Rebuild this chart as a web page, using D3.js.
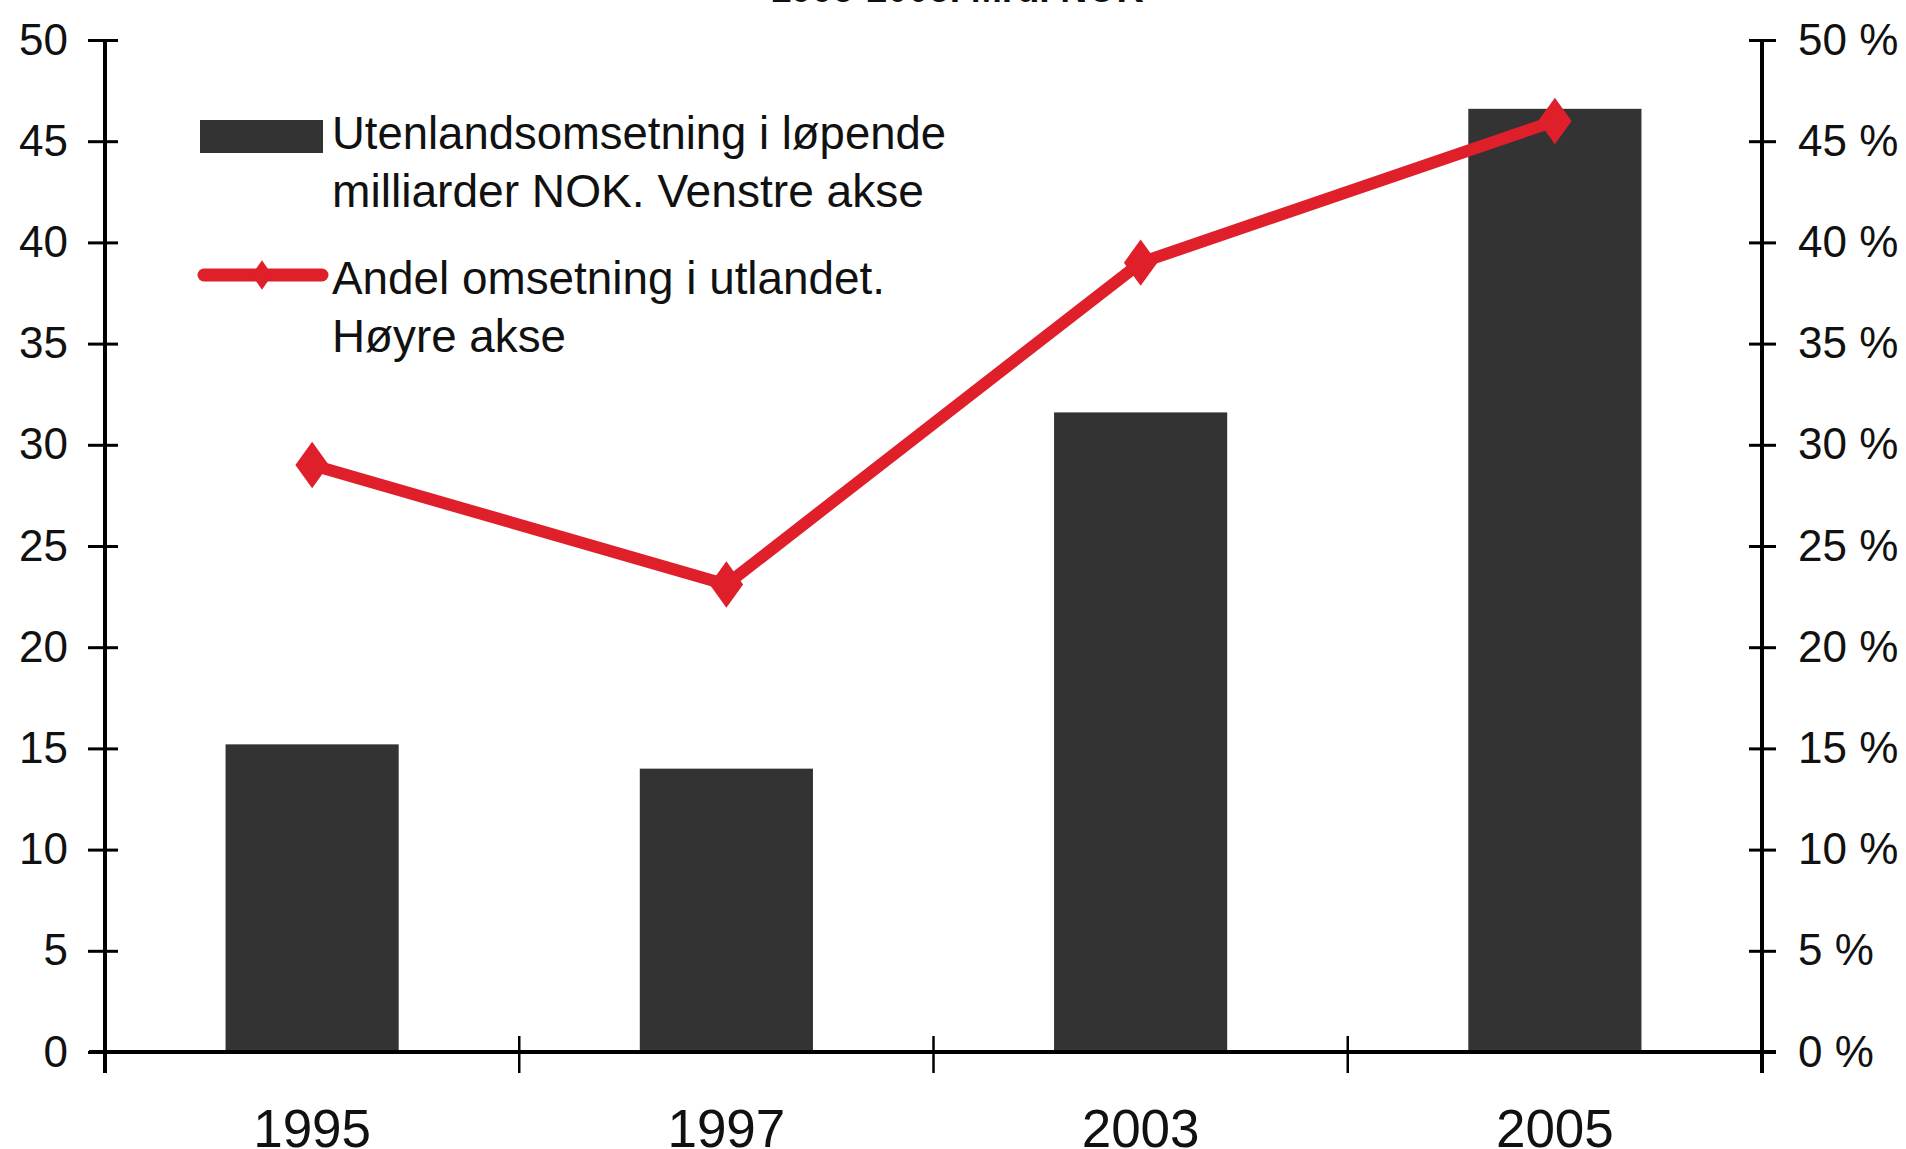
<!DOCTYPE html>
<html>
<head>
<meta charset="utf-8">
<script src="https://cdn.jsdelivr.net/npm/d3@7"></script>
<style>
html,body{margin:0;padding:0;background:#fff;}
svg{display:block;}
text{font-family:"Liberation Sans",Arial,sans-serif;fill:#111;}
</style>
</head>
<body>
<svg id="chart" width="1906" height="1149"></svg>
<script>
const years = ["1995", "1997", "2003", "2005"];
const revenue = [15.2, 14.0, 31.6, 46.6];      // mrd NOK, venstre akse
const share = [29.0, 23.1, 39.0, 46.0];        // prosent, høyre akse
const leftTicks = [0, 5, 10, 15, 20, 25, 30, 35, 40, 45, 50];
const rightTicks = [0, 5, 10, 15, 20, 25, 30, 35, 40, 45, 50];
const titleText = "1995-2005. Mrd. NOK";
const legendBar = ["Utenlandsomsetning i løpende", "milliarder NOK. Venstre akse"];
const legendLine = ["Andel omsetning i utlandet.", "Høyre akse"];

const svg = d3.select("#chart");
const L = 105, R = 1762, T = 40, B = 1052;
const red = "#df1f2a", barCol = "#333333";

const x = d3.scaleBand().domain(years).range([L, R]).paddingInner(0).paddingOuter(0);
const yL = d3.scaleLinear().domain([0, 50]).range([B, T]);
const yR = d3.scaleLinear().domain([0, 50]).range([B, T]);
const barW = x.bandwidth() * 0.418;

// title (cut off at top)
svg.append("text").attr("x", 957).attr("y", 2).attr("text-anchor", "middle")
  .attr("font-size", 44).attr("font-weight", "bold")
  .attr("textLength", 373).attr("lengthAdjust", "spacingAndGlyphs").text(titleText);

// bars
svg.append("g").selectAll("rect").data(years).join("rect")
  .attr("x", d => x(d) + x.bandwidth() / 2 - barW / 2)
  .attr("width", barW)
  .attr("y", (d, i) => yL(revenue[i]))
  .attr("height", (d, i) => B - yL(revenue[i]))
  .attr("fill", barCol);

// left axis
const gl = svg.append("g").attr("transform", `translate(${L},0)`)
  .call(d3.axisLeft(yL).tickValues(leftTicks).tickSize(17).tickPadding(20).tickFormat(d3.format("d")));
gl.select(".domain").remove();
gl.selectAll(".tick line").attr("x2", 13).attr("x1", -17).attr("stroke", "#000").attr("stroke-width", 3);
gl.selectAll(".tick text").attr("x", -37).attr("font-size", 44).attr("fill", "#111").attr("font-family", "Liberation Sans, Arial, sans-serif");
svg.append("line").attr("x1", L).attr("x2", L).attr("y1", T).attr("y2", 1073).attr("stroke", "#000").attr("stroke-width", 4);

// right axis
const gr = svg.append("g").attr("transform", `translate(${R},0)`)
  .call(d3.axisRight(yR).tickValues(rightTicks).tickSize(14).tickPadding(20).tickFormat(d => d + " %"));
gr.select(".domain").remove();
gr.selectAll(".tick line").attr("x1", -13).attr("x2", 14).attr("stroke", "#000").attr("stroke-width", 3);
gr.selectAll(".tick text").attr("x", 36).attr("font-size", 44).attr("fill", "#111").attr("font-family", "Liberation Sans, Arial, sans-serif");
svg.append("line").attr("x1", R).attr("x2", R).attr("y1", T).attr("y2", 1073).attr("stroke", "#000").attr("stroke-width", 4);

// x axis
svg.append("line").attr("x1", 89).attr("x2", 1776).attr("y1", B).attr("y2", B).attr("stroke", "#000").attr("stroke-width", 4);
const bounds = years.map(d => x(d)).concat([R]).slice(1, -1);
svg.append("g").selectAll("line").data(bounds).join("line")
  .attr("x1", d => d).attr("x2", d => d).attr("y1", 1036).attr("y2", 1073)
  .attr("stroke", "#000").attr("stroke-width", 2.5);
const gx = svg.append("g").attr("transform", `translate(0,${B})`)
  .call(d3.axisBottom(x).tickSize(0).tickPadding(0));
gx.select(".domain").remove();
gx.selectAll(".tick text").attr("y", 95).attr("dy", 0).attr("font-size", 53).attr("fill", "#111")
  .attr("font-family", "Liberation Sans, Arial, sans-serif");

// line
const line = d3.line().x((d, i) => x(years[i]) + x.bandwidth() / 2).y(d => yR(d));
svg.append("path").datum(share).attr("d", line).attr("fill", "none")
  .attr("stroke", red).attr("stroke-width", 12).attr("stroke-linejoin", "round");
const diamond = d3.symbol().type(d3.symbolDiamond).size(620);
svg.append("g").selectAll("path").data(share).join("path")
  .attr("d", diamond)
  .attr("transform", (d, i) => `translate(${x(years[i]) + x.bandwidth() / 2},${yR(d)}) scale(1.25,1)`)
  .attr("fill", red);

// legend
svg.append("rect").attr("x", 200).attr("y", 120).attr("width", 123).attr("height", 33).attr("fill", barCol);
svg.append("line").attr("x1", 204).attr("x2", 322).attr("y1", 275).attr("y2", 275)
  .attr("stroke", red).attr("stroke-width", 13).attr("stroke-linecap", "round");
svg.append("path").attr("d", d3.symbol().type(d3.symbolDiamond).size(250)).attr("transform", "translate(262,275) scale(1.2,1)").attr("fill", red);
const legLines = [
  {t: legendBar[0], y: 149, w: 614},
  {t: legendBar[1], y: 207, w: 592},
  {t: legendLine[0], y: 294, w: 553},
  {t: legendLine[1], y: 352, w: 234}
];
svg.append("g").selectAll("text").data(legLines).join("text")
  .attr("x", 332).attr("y", d => d.y).attr("font-size", 47)
  .attr("textLength", d => d.w).attr("lengthAdjust", "spacingAndGlyphs")
  .text(d => d.t);
</script>
</body>
</html>
